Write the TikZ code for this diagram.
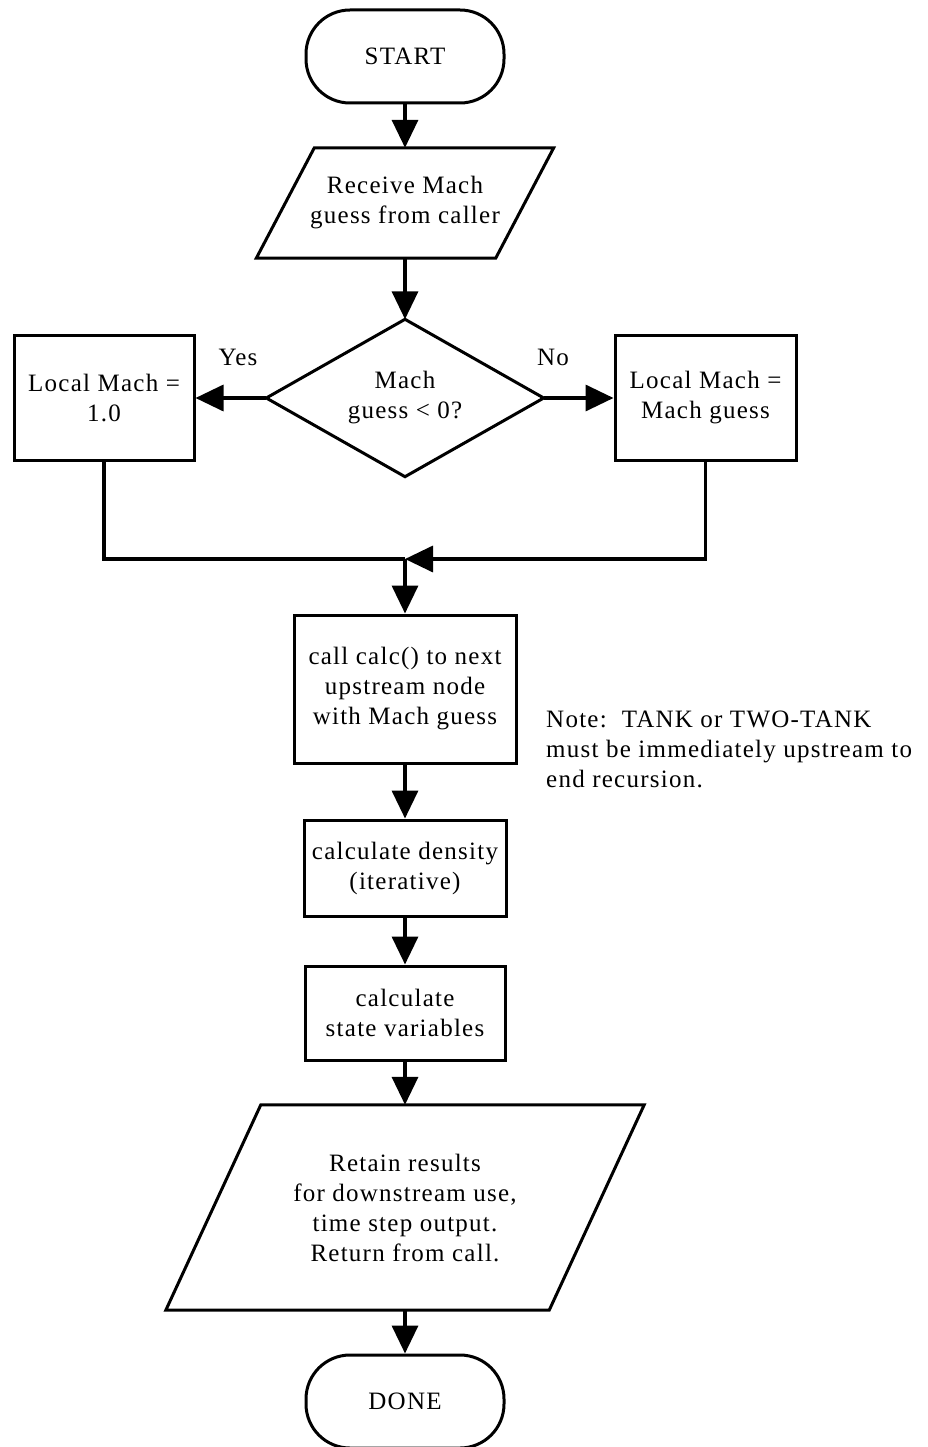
\documentclass[tikz,border=0pt]{standalone}
\usepackage{fontspec}
\setmainfont{Liberation Serif}[LetterSpace=5]
\usetikzlibrary{arrows.meta,calc}
\begin{document}
\begin{tikzpicture}[x=1pt,y=-1pt,
  every node/.style={font=\fontsize{25}{30}\selectfont, align=center, inner sep=0pt},
  outline/.style={line width=3pt, line join=miter},
  boxnode/.style={draw, line width=3pt, minimum width=#1},
  term/.style={draw, line width=3pt, rounded corners=44pt, minimum width=198pt, minimum height=93pt},
  ghost/.style={draw=none},
  conn/.style={line width=3.5pt},
  arr/.style={line width=3.5pt, -{Triangle[length=28pt,width=26pt]}}
]
\useasboundingbox (0,0) rectangle (927,1447);
% terminals
\node[term] (start) at (405,56.5) {START};
\node[term] (done) at (405,1401.5) {DONE};
% parallelogram 1
\node[ghost, minimum width=297pt, minimum height=110pt] (recv) at (405,203) {Receive Mach\\guess from caller};
\draw[outline] (recv.south west) -- ([xshift=58pt]recv.north west) -- (recv.north east) -- ([xshift=-58pt]recv.south east) -- cycle;
% diamond
\node[ghost, minimum width=277pt, minimum height=157pt] (dec) at (405,398) {Mach\\guess < 0?};
\draw[outline] (dec.north) -- (dec.east) -- (dec.south) -- (dec.west) -- cycle;
% side boxes
\node[boxnode=180pt, minimum height=125pt] (lb) at (104,398) {Local Mach =\\1.0};
\node[boxnode=181pt, minimum height=125pt] (rb) at (705.5,398) {Local Mach =\\Mach guess};
\node (yes) at (238,357) {Yes};
\node (no) at (553,357) {No};
% main column
\coordinate (m) at (405,559);
\node[boxnode=222pt, minimum height=148pt] (call) at (405,689) {call calc() to next\\upstream node\\with Mach guess};
\node[boxnode=202pt, minimum height=96pt] (dens) at (405,868) {calculate density\\(iterative)};
\node[boxnode=200pt, minimum height=94pt] (state) at (405,1013) {calculate\\state variables};
\node[ghost, minimum width=478pt, minimum height=205pt] (ret) at (405,1207.5) {Retain results\\for downstream use,\\time step output.\\Return from call.};
\draw[outline] (ret.south west) -- ([xshift=95pt]ret.north west) -- (ret.north east) -- ([xshift=-95pt]ret.south east) -- cycle;
\node[anchor=west, align=left] (note) at (546,749) {Note:\ \ TANK or TWO-TANK\\must be immediately upstream to\\end recursion.};
% connectors
\draw[arr] (start.south) -- (recv.north);
\draw[arr] (recv.south) -- (dec.north);
\draw[arr] (dec.west) -- (lb.east);
\draw[arr] (dec.east) -- (rb.west);
\draw[conn] (lb.south) |- (m);
\draw[arr] (rb.south) |- (m);
\draw[arr] (m) -- (call.north);
\draw[arr] (call.south) -- (dens.north);
\draw[arr] (dens.south) -- (state.north);
\draw[arr] (state.south) -- (ret.north);
\draw[arr] (ret.south) -- (done.north);
\end{tikzpicture}
\end{document}
